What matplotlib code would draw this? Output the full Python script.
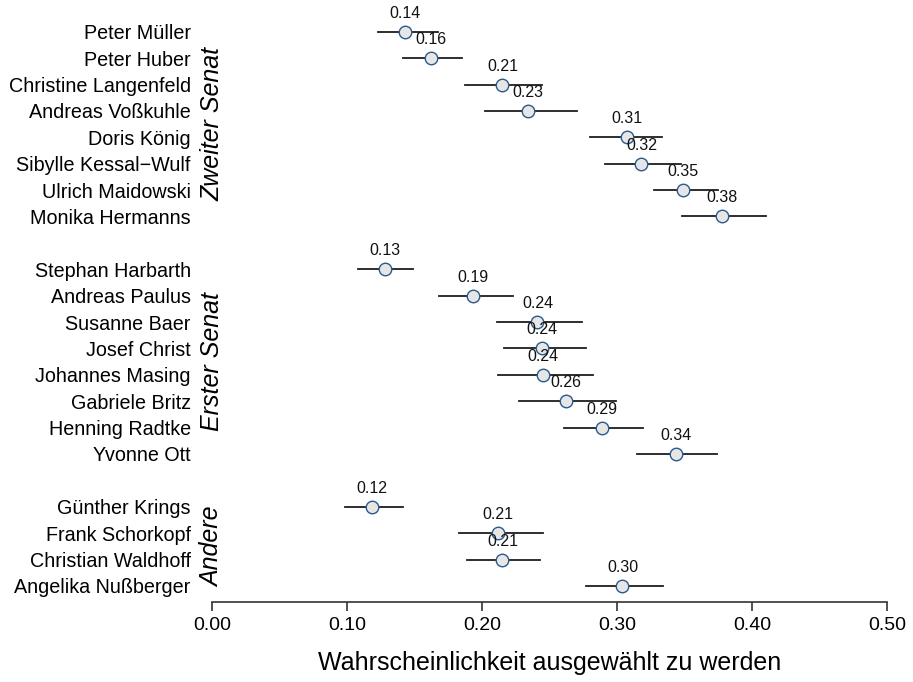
import matplotlib
matplotlib.use("Agg")
import matplotlib.pyplot as plt
import matplotlib.transforms as mtransforms

plt.rcParams['font.family'] = ['Liberation Sans', 'DejaVu Sans']

# groups, top to bottom
groups = ["Zweiter Senat", "Erster Senat", "Andere"]

names_zweiter = ["Peter Müller", "Peter Huber", "Christine Langenfeld", "Andreas Voßkuhle",
                 "Doris König", "Sibylle Kessal\u2212Wulf", "Ulrich Maidowski", "Monika Hermanns"]
est_zweiter = [0.143, 0.162, 0.215, 0.234, 0.307, 0.318, 0.349, 0.378]
lo_zweiter = [0.123, 0.141, 0.187, 0.202, 0.280, 0.291, 0.327, 0.348]
hi_zweiter = [0.167, 0.185, 0.244, 0.270, 0.333, 0.347, 0.375, 0.410]

names_erster = ["Stephan Harbarth", "Andreas Paulus", "Susanne Baer", "Josef Christ",
                "Johannes Masing", "Gabriele Britz", "Henning Radtke", "Yvonne Ott"]
est_erster = [0.128, 0.193, 0.241, 0.244, 0.245, 0.262, 0.289, 0.344]
lo_erster = [0.108, 0.168, 0.211, 0.216, 0.212, 0.227, 0.261, 0.315]
hi_erster = [0.149, 0.223, 0.274, 0.277, 0.282, 0.299, 0.319, 0.374]

names_andere = ["Günther Krings", "Frank Schorkopf", "Christian Waldhoff", "Angelika Nußberger"]
est_andere = [0.118, 0.212, 0.215, 0.304]
lo_andere = [0.098, 0.183, 0.189, 0.277]
hi_andere = [0.141, 0.245, 0.243, 0.334]

xticks = [0.0, 0.1, 0.2, 0.3, 0.4, 0.5]

all_names = [names_zweiter, names_erster, names_andere]
all_est = [est_zweiter, est_erster, est_andere]
all_lo = [lo_zweiter, lo_erster, lo_andere]
all_hi = [hi_zweiter, hi_erster, hi_andere]

fig = plt.figure(figsize=(9.13, 6.82), dpi=100)
ax = fig.add_axes([0.2325, 0.1177, 0.7390, 0.8590])

# y positions: rows from top, with a blank row between groups
n_total = sum(len(n) for n in all_names) + len(all_names) - 1
ypos = n_total
yticks, ylabels = [], []
trans = mtransforms.blended_transform_factory(ax.transAxes, ax.transData)
for g, names, est, lo, hi in zip(groups, all_names, all_est, all_lo, all_hi):
    ys = []
    for name, e, l, h in zip(names, est, lo, hi):
        ax.plot([l, h], [ypos, ypos], color='#1e1e1e', lw=1.3, zorder=2, clip_on=False)
        ax.plot(e, ypos, 'o', ms=9, mfc='#e6e6e6', mec='#2a5a8c', mew=1.0, zorder=3, clip_on=False)
        ax.annotate(f"{e:.2f}", (e, ypos), xytext=(0, 11), textcoords='offset pixels',
                    ha='center', va='bottom', fontsize=11.5, color='#111111')
        ys.append(ypos)
        yticks.append(ypos)
        ylabels.append(name)
        ypos -= 1
    ypos -= 1
    ax.text(0.0, (ys[0] + ys[-1]) / 2, g, transform=trans, rotation=90, ha='center',
            va='center', fontsize=18, style='italic')

ax.set_xlim(0, 0.5)
ax.set_ylim(0.4, n_total + 0.6)
ax.set_yticks(yticks)
ax.set_yticklabels(ylabels, fontsize=14.2)
ax.tick_params(axis='y', length=0, pad=15.5)
ax.set_xticks(xticks)
ax.set_xticklabels([f"{t:.2f}" for t in xticks], fontsize=14)
ax.tick_params(axis='x', length=6.5, width=1.2, pad=4.5, color='#333333')
for s in ['top', 'right', 'left']:
    ax.spines[s].set_visible(False)
ax.spines['bottom'].set_linewidth(1.2)
ax.spines['bottom'].set_color('#333333')
ax.set_xlabel("Wahrscheinlichkeit ausgewählt zu werden", fontsize=18, labelpad=12.5)

fig.savefig("out.png", dpi=100)
